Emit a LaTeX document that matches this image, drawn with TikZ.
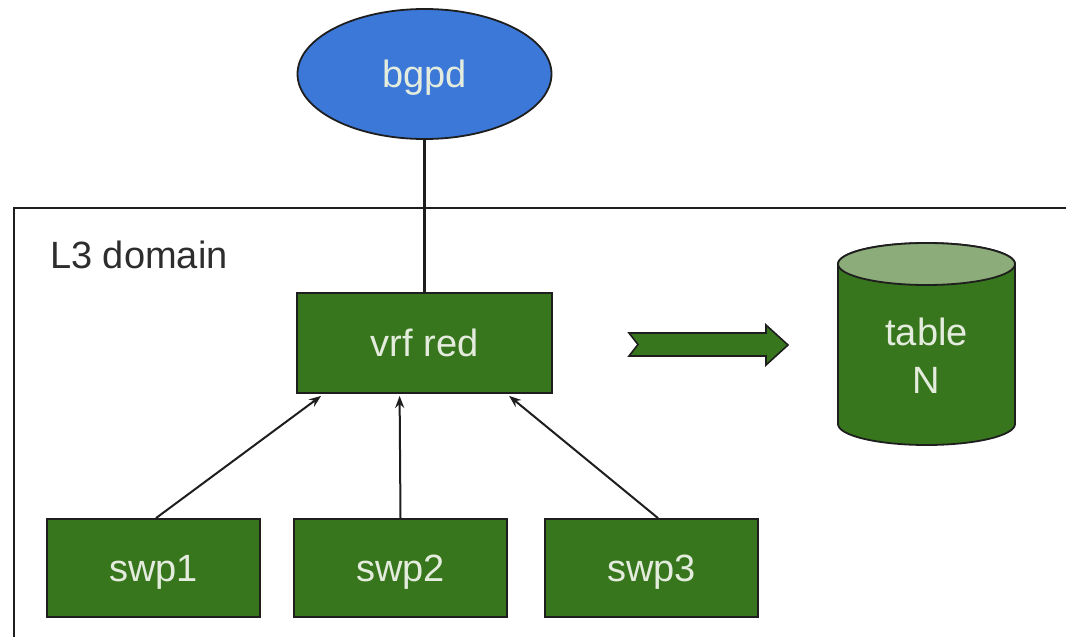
\documentclass[tikz,border=0pt]{standalone}
\usepackage{fontspec}
\setmainfont{Liberation Sans}
\usetikzlibrary{calc,arrows.meta,shapes.geometric}
\definecolor{dgreen}{RGB}{56,118,29}
\definecolor{lgreen}{RGB}{140,172,122}
\definecolor{gblue}{RGB}{60,120,216}
\definecolor{paletxt}{RGB}{228,236,222}
\definecolor{edgegray}{RGB}{30,30,30}
\definecolor{labelgray}{RGB}{45,45,45}
\tikzset{
  greenbox/.style={draw=edgegray, line width=1.8pt, fill=dgreen, text=paletxt,
    font=\fontsize{38}{40}\selectfont, text height=27pt, text depth=0pt,
    inner sep=0pt, minimum width=213pt, minimum height=98pt},
  link/.style={draw=edgegray, line width=2pt, -{Stealth[length=12pt,width=9pt]}},
}
\begin{document}
\begin{tikzpicture}[x=1pt,y=-1pt]
\useasboundingbox (0,0) rectangle (1066,637);
\clip (0,0) rectangle (1066,637);
% L3 domain frame
\draw[draw=edgegray, line width=1.4pt] (1080,208) -- (14,208) -- (14,650);
\node[anchor=base west, text=labelgray, font=\fontsize{38}{40}\selectfont, inner sep=0pt] (l3) at (50,268) {L3 domain};
% bgpd
\node[ellipse, draw=edgegray, line width=1.8pt, fill=gblue, text=paletxt,
  font=\fontsize{38}{40}\selectfont, text height=27pt, text depth=0pt, inner sep=0pt,
  minimum width=254pt, minimum height=130pt] (bgpd) at (424.5,74) {bgpd};
% vrf red
\node[greenbox, minimum width=255pt, minimum height=100pt] (vrf) at (424.5,343) {vrf red};
\draw[draw=edgegray, line width=2.6pt] (bgpd.south) -- (vrf.north);
% swp boxes
\node[greenbox] (swp1) at (153.5,568) {swp1};
\node[greenbox] (swp2) at (400.5,568) {swp2};
\node[greenbox] (swp3) at (651.5,568) {swp3};
\draw[link] ($(swp1.north)+(2.5,0)$) -- ($(vrf.south west)+(25,2)$);
\draw[link] (swp2.north) -- ($(vrf.south west)+(103.5,2)$);
\draw[link] ($(swp3.north)+(6.5,0)$) -- ($(vrf.south west)+(213,2)$);
% signal arrow
\draw[draw=edgegray, line width=1.6pt, fill=dgreen, line join=miter]
  (629,333) -- (766,333) -- (766,325) -- (788,345) -- (766,365) -- (766,356)
  -- (629,356) -- (638,344.5) -- cycle;
% cylinder
\coordinate (cyltop) at (926.5,264);
\coordinate (cylbot) at (926.5,424);
\draw[draw=edgegray, line width=1.8pt, fill=dgreen]
  (838,264) -- (838,424) arc[start angle=180, end angle=360, x radius=88.5pt, y radius=21pt]
  -- (1015,264) arc[start angle=0, end angle=180, x radius=88.5pt, y radius=21pt] -- cycle;
\draw[draw=edgegray, line width=1.8pt, fill=lgreen] (cyltop) ellipse [x radius=88.5pt, y radius=21pt];
\node[anchor=base, text=paletxt, font=\fontsize{38}{40}\selectfont, inner sep=0pt] (tabt) at (926.5,345) {table};
\node[anchor=base, text=paletxt, font=\fontsize{38}{40}\selectfont, inner sep=0pt] (tabn) at (926.5,393) {N};
\end{tikzpicture}
\end{document}
